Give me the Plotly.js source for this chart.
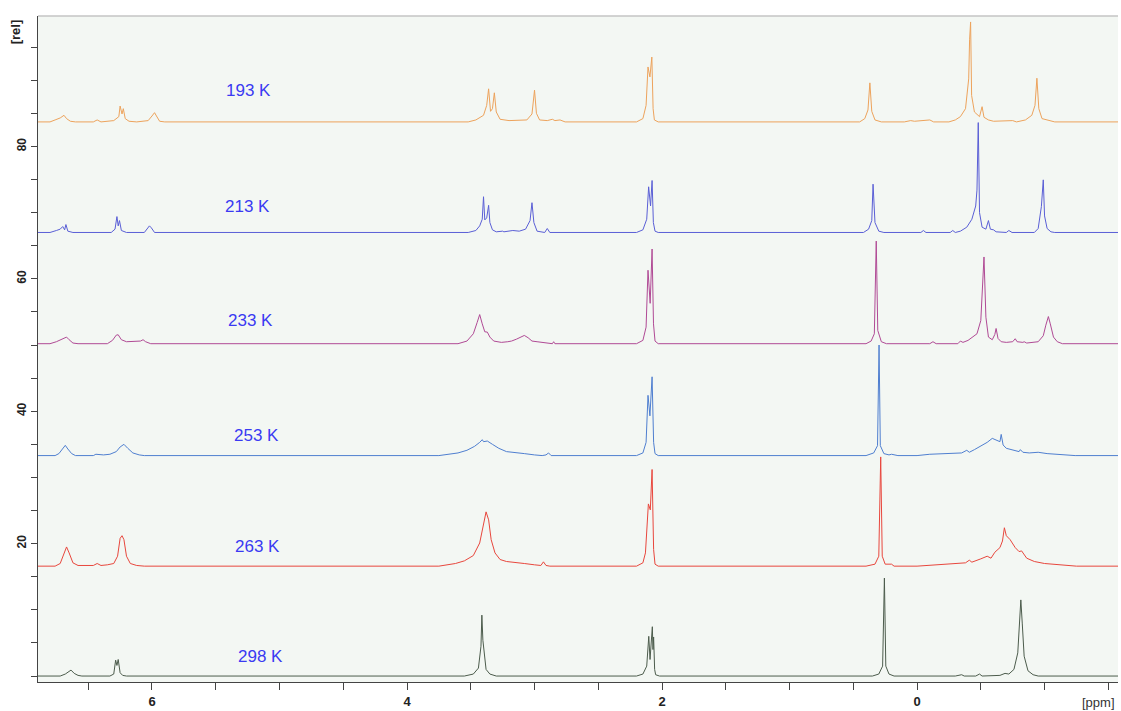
<!DOCTYPE html>
<html>
<head>
<meta charset="utf-8">
<script src="https://cdn.plot.ly/plotly-3.0.1.min.js"></script>
<style>
  html, body { margin: 0; padding: 0; background: #ffffff; }
  #chart { width: 1121px; height: 711px; }
</style>
</head>
<body>
<div id="chart"></div>
<script>
// Variable-temperature 1H NMR spectra, stacked by temperature.
// Each spectrum: chemical shift (ppm) and relative intensity above its own baseline.

const temps = ['193 K', '213 K', '233 K', '253 K', '263 K', '298 K'];
const baselines = [83.7, 67.0, 50.2, 33.3, 16.6, 0];
const colors = ['#eda35c', '#5a5fd6', '#b04a95', '#4f7fd0', '#e8473d', '#4c5c4c'];

const ppm193 = [6.894, 6.80, 6.76, 6.72, 6.69, 6.67, 6.64, 6.60, 6.46, 6.43, 6.40, 6.30, 6.26, 6.25, 6.235, 6.225, 6.21, 6.18, 6.12,
  6.03, 6.00, 5.98, 5.965, 5.94, 5.90, 3.52, 3.46, 3.40, 3.375, 3.36, 3.345, 3.33, 3.315, 3.30, 3.27, 3.20, 3.06, 3.02, 3.00, 2.985,
  2.96, 2.90, 2.86, 2.84, 2.80, 2.76, 2.20, 2.15, 2.125, 2.11, 2.095, 2.08, 2.07, 2.06, 2.03, 0.45, 0.41, 0.385, 0.37, 0.355, 0.33,
  0.28, 0.10, 0.05, 0.02, -0.10, -0.13, -0.25, -0.30, -0.34, -0.38, -0.40, -0.405, -0.412, -0.42, -0.428, -0.45, -0.49, -0.51, -0.525,
  -0.56, -0.60, -0.75, -0.78, -0.85, -0.90, -0.925, -0.94, -0.955, -0.98, -1.03, -1.08, -1.576];
const rel193 = [0, 0, 0.3, 0.6, 1.0, 0.5, 0.1, 0, 0, 0.3, 0, 0.2, 0.8, 2.4, 1.2, 2.0, 0.5, 0.1, 0,
  0.2, 0.9, 1.4, 0.9, 0.1, 0, 0, 0.3, 1.0, 2.5, 5.0, 1.6, 2.0, 4.4, 1.5, 0.4, 0.2, 0.3, 1.2, 4.8, 1.3,
  0.3, 0.2, 0.4, 0.2, 0.3, 0, 0, 0.5, 2.5, 8.3, 6.8, 9.8, 2.0, 0.3, 0, 0, 0.5, 1.8, 5.9, 1.6, 0.3,
  0, 0, 0.2, 0.1, 0.3, 0, 0, 0.3, 0.8, 2.0, 5.0, 6.5, 12.4, 15.1, 4.0, 1.5, 0.8, 2.3, 0.7,
  0.3, 0.1, 0.2, 0, 0.3, 1.0, 2.5, 6.6, 2.0, 0.5, 0.2, 0, 0];

const ppm213 = [6.894, 6.80, 6.75, 6.72, 6.70, 6.685, 6.675, 6.66, 6.62, 6.32, 6.29, 6.275, 6.265, 6.255, 6.24, 6.20, 6.06, 6.035,
  6.02, 6.005, 5.98, 3.52, 3.46, 3.43, 3.41, 3.40, 3.39, 3.375, 3.36, 3.35, 3.33, 3.30, 3.25, 3.24, 3.17, 3.12, 3.07, 3.035, 3.02,
  3.005, 2.98, 2.92, 2.90, 2.88, 2.20, 2.15, 2.12, 2.105, 2.09, 2.078, 2.068, 2.055, 2.03, 0.42, 0.38, 0.355, 0.345, 0.33, 0.30,
  0.26, -0.03, -0.05, -0.07, -0.26, -0.28, -0.30, -0.34, -0.39, -0.43, -0.46, -0.47, -0.48, -0.49, -0.51, -0.54, -0.56, -0.575,
  -0.60, -0.62, -0.70, -0.72, -0.745, -0.92, -0.95, -0.975, -0.99, -1.00, -1.02, -1.05, -1.08, -1.576];
const rel213 = [0, 0, 0.3, 0.5, 0.9, 0.4, 1.2, 0.2, 0, 0, 0.5, 2.4, 1.0, 1.8, 0.3, 0, 0, 0.6,
  1.0, 0.7, 0, 0, 0.3, 1.0, 2.0, 5.4, 1.9, 2.2, 4.1, 1.5, 0.4, 0.1, 0.2, 0.1, 0.3, 0.2, 0.5, 1.8, 4.5,
  1.5, 0.2, 0, 0.6, 0, 0, 0.4, 2.0, 6.9, 4.0, 7.85, 1.5, 0.2, 0, 0, 0.5, 1.8, 7.3, 1.5, 0.2,
  0, 0, 0.3, 0, 0, 0.3, 0, 0.2, 0.8, 2.0, 4.0, 6.4, 16.6, 3.0, 0.8, 0.5, 1.8, 0.5,
  0.4, 0.1, 0, 0.3, 0, 0, 0.6, 3.9, 7.95, 2.5, 0.6, 0.1, 0, 0];

const ppm233 = [6.894, 6.80, 6.75, 6.70, 6.67, 6.65, 6.62, 6.58, 6.35, 6.31, 6.28, 6.265, 6.24, 6.20, 6.15, 6.09, 6.07, 6.05, 6.01,
  3.60, 3.53, 3.48, 3.45, 3.43, 3.41, 3.39, 3.37, 3.35, 3.32, 3.29, 3.26, 3.21, 3.18, 3.14, 3.10, 3.08, 3.05, 3.02, 2.98, 2.94,
  2.90, 2.86, 2.85, 2.84, 2.20, 2.15, 2.125, 2.11, 2.093, 2.078, 2.067, 2.055, 2.03, 0.40, 0.36, 0.335, 0.32, 0.308, 0.28, 0.24,
  -0.10, -0.125, -0.15, -0.32, -0.34, -0.36, -0.40, -0.44, -0.47, -0.50, -0.515, -0.525, -0.54, -0.56, -0.59, -0.61, -0.62, -0.635,
  -0.66, -0.70, -0.75, -0.77, -0.785, -0.83, -0.84, -0.86, -0.95, -0.99, -1.01, -1.03, -1.045, -1.07, -1.10, -1.14, -1.576];
const rel233 = [0, 0, 0.3, 0.7, 1.0, 0.6, 0.1, 0, 0, 0.5, 1.3, 1.35, 0.6, 0.3, 0.3, 0.4, 0.6, 0.3, 0,
  0, 0.4, 1.5, 3.2, 4.4, 3.0, 1.8, 1.75, 1.0, 0.4, 0.3, 0.2, 0.3, 0.4, 0.7, 1.1, 1.25, 0.9, 0.4, 0.3, 0.2,
  0, 0, 0.3, 0, 0, 0.5, 2.5, 11.1, 6.1, 14.3, 3.0, 0.4, 0, 0, 0.4, 1.5, 15.5, 2.0, 0.3, 0,
  0, 0.3, 0, 0, 0.4, 0.2, 0.5, 1.0, 1.5, 3.5, 9.0, 13.1, 4.0, 1.0, 0.6, 1.4, 2.3, 0.8,
  0.3, 0.2, 0.3, 0.75, 0.3, 0.2, 0.3, 0.1, 0.3, 1.2, 2.8, 4.1, 3.0, 1.0, 0.3, 0, 0];

const ppm253 = [6.894, 6.76, 6.73, 6.70, 6.68, 6.66, 6.63, 6.60, 6.46, 6.44, 6.41, 6.38, 6.33, 6.28, 6.25, 6.22, 6.19, 6.15, 6.10,
  6.06, 3.75, 3.69, 3.60, 3.53, 3.47, 3.43, 3.41, 3.40, 3.37, 3.33, 3.28, 3.22, 3.15, 3.08, 3.00, 2.94, 2.91, 2.89, 2.87, 2.20,
  2.15, 2.125, 2.11, 2.095, 2.078, 2.066, 2.055, 2.03, 0.40, 0.34, 0.31, 0.298, 0.288, 0.26, 0.22, 0.20, 0.15, 0.00, -0.10, -0.25,
  -0.35, -0.39, -0.41, -0.45, -0.50, -0.55, -0.59, -0.62, -0.65, -0.66, -0.675, -0.70, -0.75, -0.80, -0.81, -0.83, -0.88, -0.95,
  -1.02, -1.10, -1.20, -1.24, -1.576];
const rel253 = [0, 0, 0.3, 1.0, 1.55, 1.0, 0.3, 0, 0, 0.2, 0.1, 0.1, 0.2, 0.6, 1.3, 1.7, 1.1, 0.4, 0.1,
  0, 0, 0.2, 0.4, 0.8, 1.4, 2.0, 2.4, 2.1, 2.2, 1.7, 1.1, 0.6, 0.4, 0.3, 0.1, 0, 0.1, 0.4, 0, 0,
  0.4, 2.0, 9.1, 6.0, 11.9, 2.0, 0.3, 0, 0, 0.4, 1.5, 16.7, 1.5, 0.3, 0.1, 0.2, 0, 0, 0.2, 0.3,
  0.4, 0.8, 0.5, 0.9, 1.4, 2.0, 2.6, 2.3, 2.1, 3.2, 1.6, 1.1, 0.8, 0.6, 0.9, 0.5, 0.4, 0.5,
  0.3, 0.2, 0.1, 0, 0];

const ppm263 = [6.894, 6.76, 6.72, 6.69, 6.67, 6.65, 6.62, 6.58, 6.46, 6.43, 6.40, 6.35, 6.30, 6.27, 6.25, 6.235, 6.22, 6.20, 6.17,
  6.12, 6.06, 3.75, 3.69, 3.62, 3.55, 3.48, 3.43, 3.40, 3.38, 3.36, 3.34, 3.31, 3.27, 3.22, 3.15, 3.08, 3.00, 2.95, 2.93, 2.91,
  2.88, 2.20, 2.15, 2.13, 2.107, 2.092, 2.078, 2.066, 2.055, 2.03, 0.40, 0.33, 0.30, 0.285, 0.273, 0.25, 0.20, 0.18, 0.00, -0.13,
  -0.25, -0.38, -0.41, -0.43, -0.50, -0.55, -0.58, -0.61, -0.65, -0.67, -0.685, -0.70, -0.73, -0.77, -0.80, -0.82, -0.86, -0.92,
  -1.00, -1.10, -1.20, -1.25, -1.576];
const rel263 = [0, 0, 0.4, 2.0, 2.9, 2.0, 0.5, 0.1, 0.1, 0.4, 0.1, 0.2, 0.4, 1.5, 4.2, 4.6, 4.0, 1.5, 0.4,
  0.1, 0, 0, 0.2, 0.4, 0.8, 1.6, 3.5, 6.5, 8.2, 7.0, 4.0, 2.0, 1.0, 0.7, 0.6, 0.4, 0.2, 0.1, 0.65, 0.1,
  0, 0, 0.5, 2.0, 9.4, 8.5, 14.6, 2.5, 0.3, 0, 0, 0.3, 1.5, 16.5, 1.5, 0.3, 0.3, 0, 0, 0.2,
  0.3, 0.5, 0.9, 0.6, 1.1, 1.5, 1.2, 2.1, 2.8, 3.8, 5.8, 4.6, 4.0, 2.8, 2.2, 2.3, 1.2, 0.7,
  0.4, 0.2, 0.1, 0, 0];

const ppm298 = [6.894, 6.72, 6.68, 6.65, 6.635, 6.61, 6.58, 6.55, 6.33, 6.30, 6.285, 6.275, 6.265, 6.25, 6.23, 6.20, 3.55, 3.48,
  3.44, 3.42, 3.413, 3.405, 3.395, 3.38, 3.35, 3.30, 2.20, 2.15, 2.12, 2.104, 2.094, 2.082, 2.076, 2.071, 2.066, 2.058, 2.05, 2.02,
  0.35, 0.30, 0.27, 0.256, 0.245, 0.22, 0.18, -0.30, -0.35, -0.37, -0.46, -0.49, -0.51, -0.65, -0.69, -0.72, -0.76, -0.79, -0.805,
  -0.814, -0.825, -0.84, -0.87, -0.91, -0.95, -1.576];
const rel298 = [0, 0, 0.3, 0.8, 0.9, 0.4, 0.1, 0, 0, 0.3, 2.4, 1.6, 2.5, 0.5, 0.1, 0, 0, 0.3,
  1.2, 4.5, 9.2, 5.4, 3.5, 1.0, 0.3, 0, 0, 0.3, 1.5, 6.0, 2.5, 5.0, 7.45, 4.0, 5.9, 1.0, 0.2, 0,
  0, 0.3, 1.5, 14.8, 1.5, 0.3, 0, 0, 0.2, 0, 0, 0.3, 0, 0.1, 0.4, 0.3, 1.0, 3.5, 9.0,
  11.5, 8.0, 3.0, 0.8, 0.2, 0, 0];

const spectra = [
  [ppm193, rel193], [ppm213, rel213], [ppm233, rel233],
  [ppm253, rel253], [ppm263, rel263], [ppm298, rel298]
];

// Axis ticks: minor marks every 0.5 ppm / 5 units, labels on a coarser grid.
const xTickVals = [6.5, 6, 5.5, 5, 4.5, 4, 3.5, 3, 2.5, 2, 1.5, 1, 0.5, 0, -0.5, -1, -1.5];
const xLabelVals = [6, 4, 2, 0];
const yTickVals = [0, 5, 10, 15, 20, 25, 30, 35, 40, 45, 50, 55, 60, 65, 70, 75, 80, 85, 90, 95];
const yLabelVals = [20, 40, 60, 80];

const traces = spectra.map(([ppm, rel], i) => ({
  type: 'scatter',
  mode: 'lines',
  x: ppm,
  y: rel.map(v => v + baselines[i]),
  line: { color: colors[i], width: 1 },
  hoverinfo: 'skip',
  showlegend: false
}));

// Temperature labels sit a little above each baseline.
const labelPpm = [5.24, 5.25, 5.23, 5.18, 5.17, 5.15];
const labelLift = [4.7, 3.9, 3.5, 3.1, 3.0, 3.0];
const annotations = temps.map((t, i) => ({
  x: labelPpm[i], y: baselines[i] + labelLift[i], xref: 'x', yref: 'y',
  text: t, showarrow: false,
  font: { family: 'Arial, Liberation Sans, sans-serif', size: 17, color: '#3a3af2' }
}));
annotations.push({
  x: -0.0213, y: 0.977, xref: 'paper', yref: 'paper', xanchor: 'center', yanchor: 'middle',
  text: '<b>[rel]</b>', textangle: -90, showarrow: false,
  font: { family: 'Arial, Liberation Sans, sans-serif', size: 13, color: '#222222' }
});
annotations.push({
  x: 0.982, y: -0.031, xref: 'paper', yref: 'paper', xanchor: 'center', yanchor: 'middle',
  text: '[ppm]', showarrow: false,
  font: { family: 'Arial, Liberation Sans, sans-serif', size: 13, color: '#333333' }
});

const layout = {
  width: 1121, height: 711,
  margin: { l: 38, r: 3, t: 16, b: 29, pad: 0 },
  paper_bgcolor: '#ffffff',
  plot_bgcolor: '#f3f7f3',
  xaxis: {
    range: [6.894, -1.576],
    showgrid: false, zeroline: false,
    showline: true, linecolor: '#444444', linewidth: 1,
    ticks: 'outside', ticklen: 7, tickcolor: '#444444', tickwidth: 1,
    tickmode: 'array', tickvals: xTickVals,
    ticktext: xTickVals.map(v => xLabelVals.includes(v) ? '<b>' + v + '</b>' : ''),
    tickfont: { family: 'Arial, Liberation Sans, sans-serif', size: 13, color: '#222222' },
    fixedrange: true
  },
  yaxis: {
    range: [-0.9, 99.7],
    showgrid: false, zeroline: false,
    showline: true, linecolor: '#444444', linewidth: 1,
    ticks: 'outside', ticklen: 6, tickcolor: '#444444', tickwidth: 1,
    tickmode: 'array', tickvals: yTickVals,
    ticktext: yTickVals.map(v => yLabelVals.includes(v) ? '<b>' + v + '</b>' : ''),
    tickangle: -90,
    tickfont: { family: 'Arial, Liberation Sans, sans-serif', size: 12, color: '#222222' },
    fixedrange: true
  },
  shapes: [{
    type: 'line', xref: 'paper', yref: 'paper', x0: 0, x1: 1, y0: 1, y1: 1,
    line: { color: '#c4c4c4', width: 1.5 }
  }],
  annotations: annotations
};

Plotly.newPlot('chart', traces, layout, { staticPlot: true, displayModeBar: false });
</script>
</body>
</html>
